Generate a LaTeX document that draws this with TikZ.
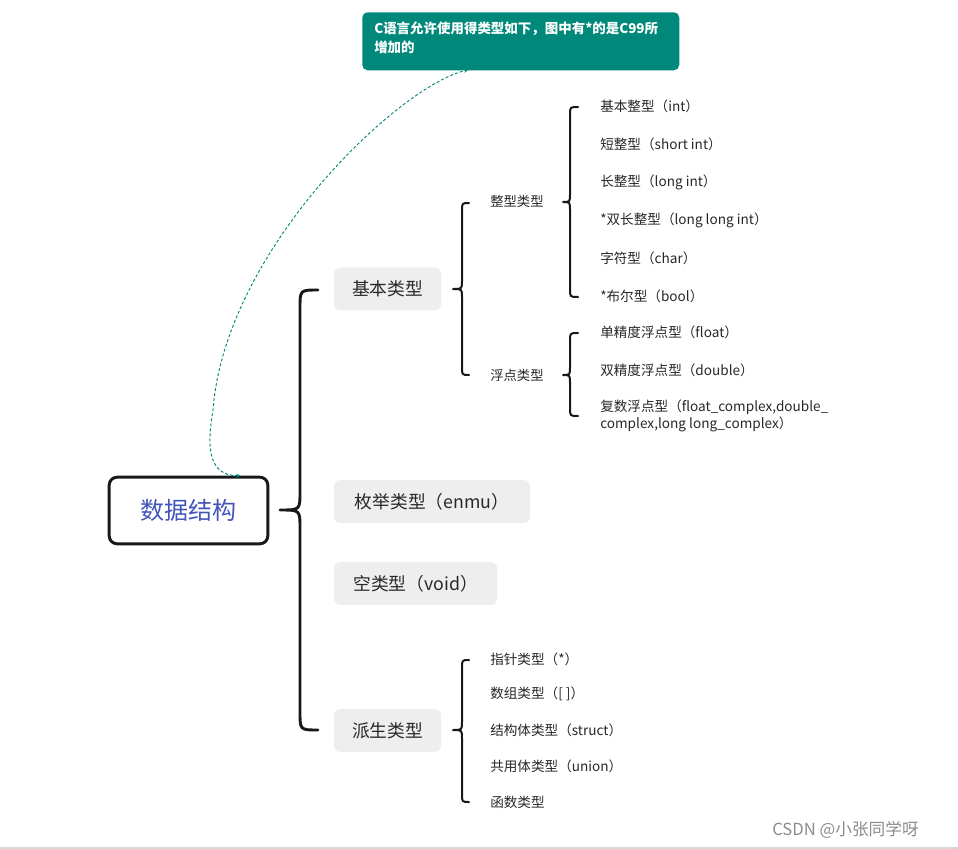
\documentclass[tikz,border=0pt]{standalone}
\usepackage{fontspec}
\setmainfont{Noto Sans CJK SC}
\usetikzlibrary{arrows.meta}
\definecolor{teal1}{RGB}{0,137,123}
\definecolor{rootblue}{RGB}{66,84,186}
\definecolor{boxgray}{RGB}{238,238,238}
\definecolor{txt}{RGB}{40,40,40}
\newcommand{\mybrace}[8]{% width, x, tipx, tipy, top, bot, hookx, r
  \draw[line width=#1, line cap=round, line join=round, txt!60!black]
    (#7,#5) .. controls (#2,#5) .. (#2,{#5+#8}) -- (#2,{#4-#8})
    .. controls (#2,#4) .. (#3,#4)
    .. controls (#2,#4) .. (#2,{#4+#8}) -- (#2,{#6-#8})
    .. controls (#2,#6) .. (#7,#6);}
\begin{document}
\begin{tikzpicture}[x=0.75pt,y=-0.75pt,
  lvlone/.style={fill=boxgray, rounded corners=4.5pt, minimum height=32pt, inner sep=0pt, font=\fontsize{13.3}{15}\selectfont, text=txt},
  lvltwo/.style={anchor=west, inner sep=0pt, font=\fontsize{10}{12}\selectfont, text=txt},
  leaf/.style={anchor=west, inner sep=0pt, font=\fontsize{10.2}{12.2}\selectfont, text=txt, align=left},
]
\useasboundingbox (0,0) rectangle (958,849);
\fill[white] (0,0) rectangle (958,849);

% callout
\node[fill=teal1, rounded corners=4pt, minimum width=237.75pt, minimum height=43.5pt, inner sep=0pt, anchor=north west] (note) at (362,12) {};
\node[anchor=north west, align=left, inner sep=0pt, text=white, font=\bfseries\fontsize{10.1}{14.2}\selectfont] (notetext) at (374,22) {C语言允许使用得类型如下，图中有*的是C99所\\增加的};

% root
\node[draw=black!90, line width=2.2pt, rounded corners=6pt, minimum width=119pt, minimum height=50pt, inner sep=0pt, text=rootblue, font=\fontsize{18}{20}\selectfont] (root) at (188.5,510.5) {数据结构};

% dashed connector
\draw[teal1, line width=0.7pt, dash pattern=on 2.2pt off 1.6pt, {Stealth[length=3pt,width=3pt]}-{Stealth[length=3pt,width=3pt]}]
  (root.north) ++(52,0) coordinate (cstart) .. controls (205,476) and (208,440) .. (213,410)
  .. controls (225,250) and (400,85) .. (468,70) coordinate (cend);

% level one
\node[lvlone, minimum width=80.25pt] (basic) at (387.5,289) {基本类型};
\node[lvlone, minimum width=147pt] (enum) at (432,501.5) {枚举类型（enmu）};
\node[lvlone, minimum width=122.25pt] (void) at (415.5,583.5) {空类型（void）};
\node[lvlone, minimum width=80.25pt] (derived) at (387.5,730.5) {派生类型};

% level two
\node[lvltwo] (int) at (490,201) {整型类型};
\node[lvltwo] (flt) at (490,375) {浮点类型};

% leaves
\node[leaf] (i1) at (600,106) {基本整型（int）};
\node[leaf] (i2) at (600,144) {短整型（short int）};
\node[leaf] (i3) at (600,182) {长整型（long int）};
\node[leaf] (i4) at (600,220) {*双长整型（long long int）};
\node[leaf] (i5) at (600,258) {字符型（char）};
\node[leaf] (i6) at (600,296) {*布尔型（bool）};
\node[leaf] (f1) at (600,332) {单精度浮点型（float）};
\node[leaf] (f2) at (600,370) {双精度浮点型（double）};
\node[leaf, anchor=north west] (f3) at (600,400) {复数浮点型（float\_complex,double\_\\complex,long long\_complex）};

\node[leaf] (d1) at (490,659) {指针类型（*）};
\node[leaf] (d2) at (490,694) {数组类型（[ ]）};
\node[leaf] (d3) at (490,730) {结构体类型（struct）};
\node[leaf] (d4) at (490,766) {共用体类型（union）};
\node[leaf] (d5) at (490,802) {函数类型};

% braces
\mybrace{2.2pt}{300}{280}{510}{290}{730}{318}{18}
\mybrace{1.5pt}{462}{453}{289}{203}{375}{469}{8}
\mybrace{1.5pt}{570}{563}{202}{107}{297}{578}{8}
\mybrace{1.5pt}{570}{563}{375}{333}{416}{578}{8}
\mybrace{1.5pt}{462}{453}{730}{660}{802}{469}{8}

% watermark
\node[anchor=west, inner sep=0pt, text=black!45, font=\fontsize{12.5}{14}\selectfont] (wm) at (772,830) {CSDN @小张同学呀};
\draw[black!15, line width=1.5pt] (0,848) -- (958,848);
\end{tikzpicture}
\end{document}
